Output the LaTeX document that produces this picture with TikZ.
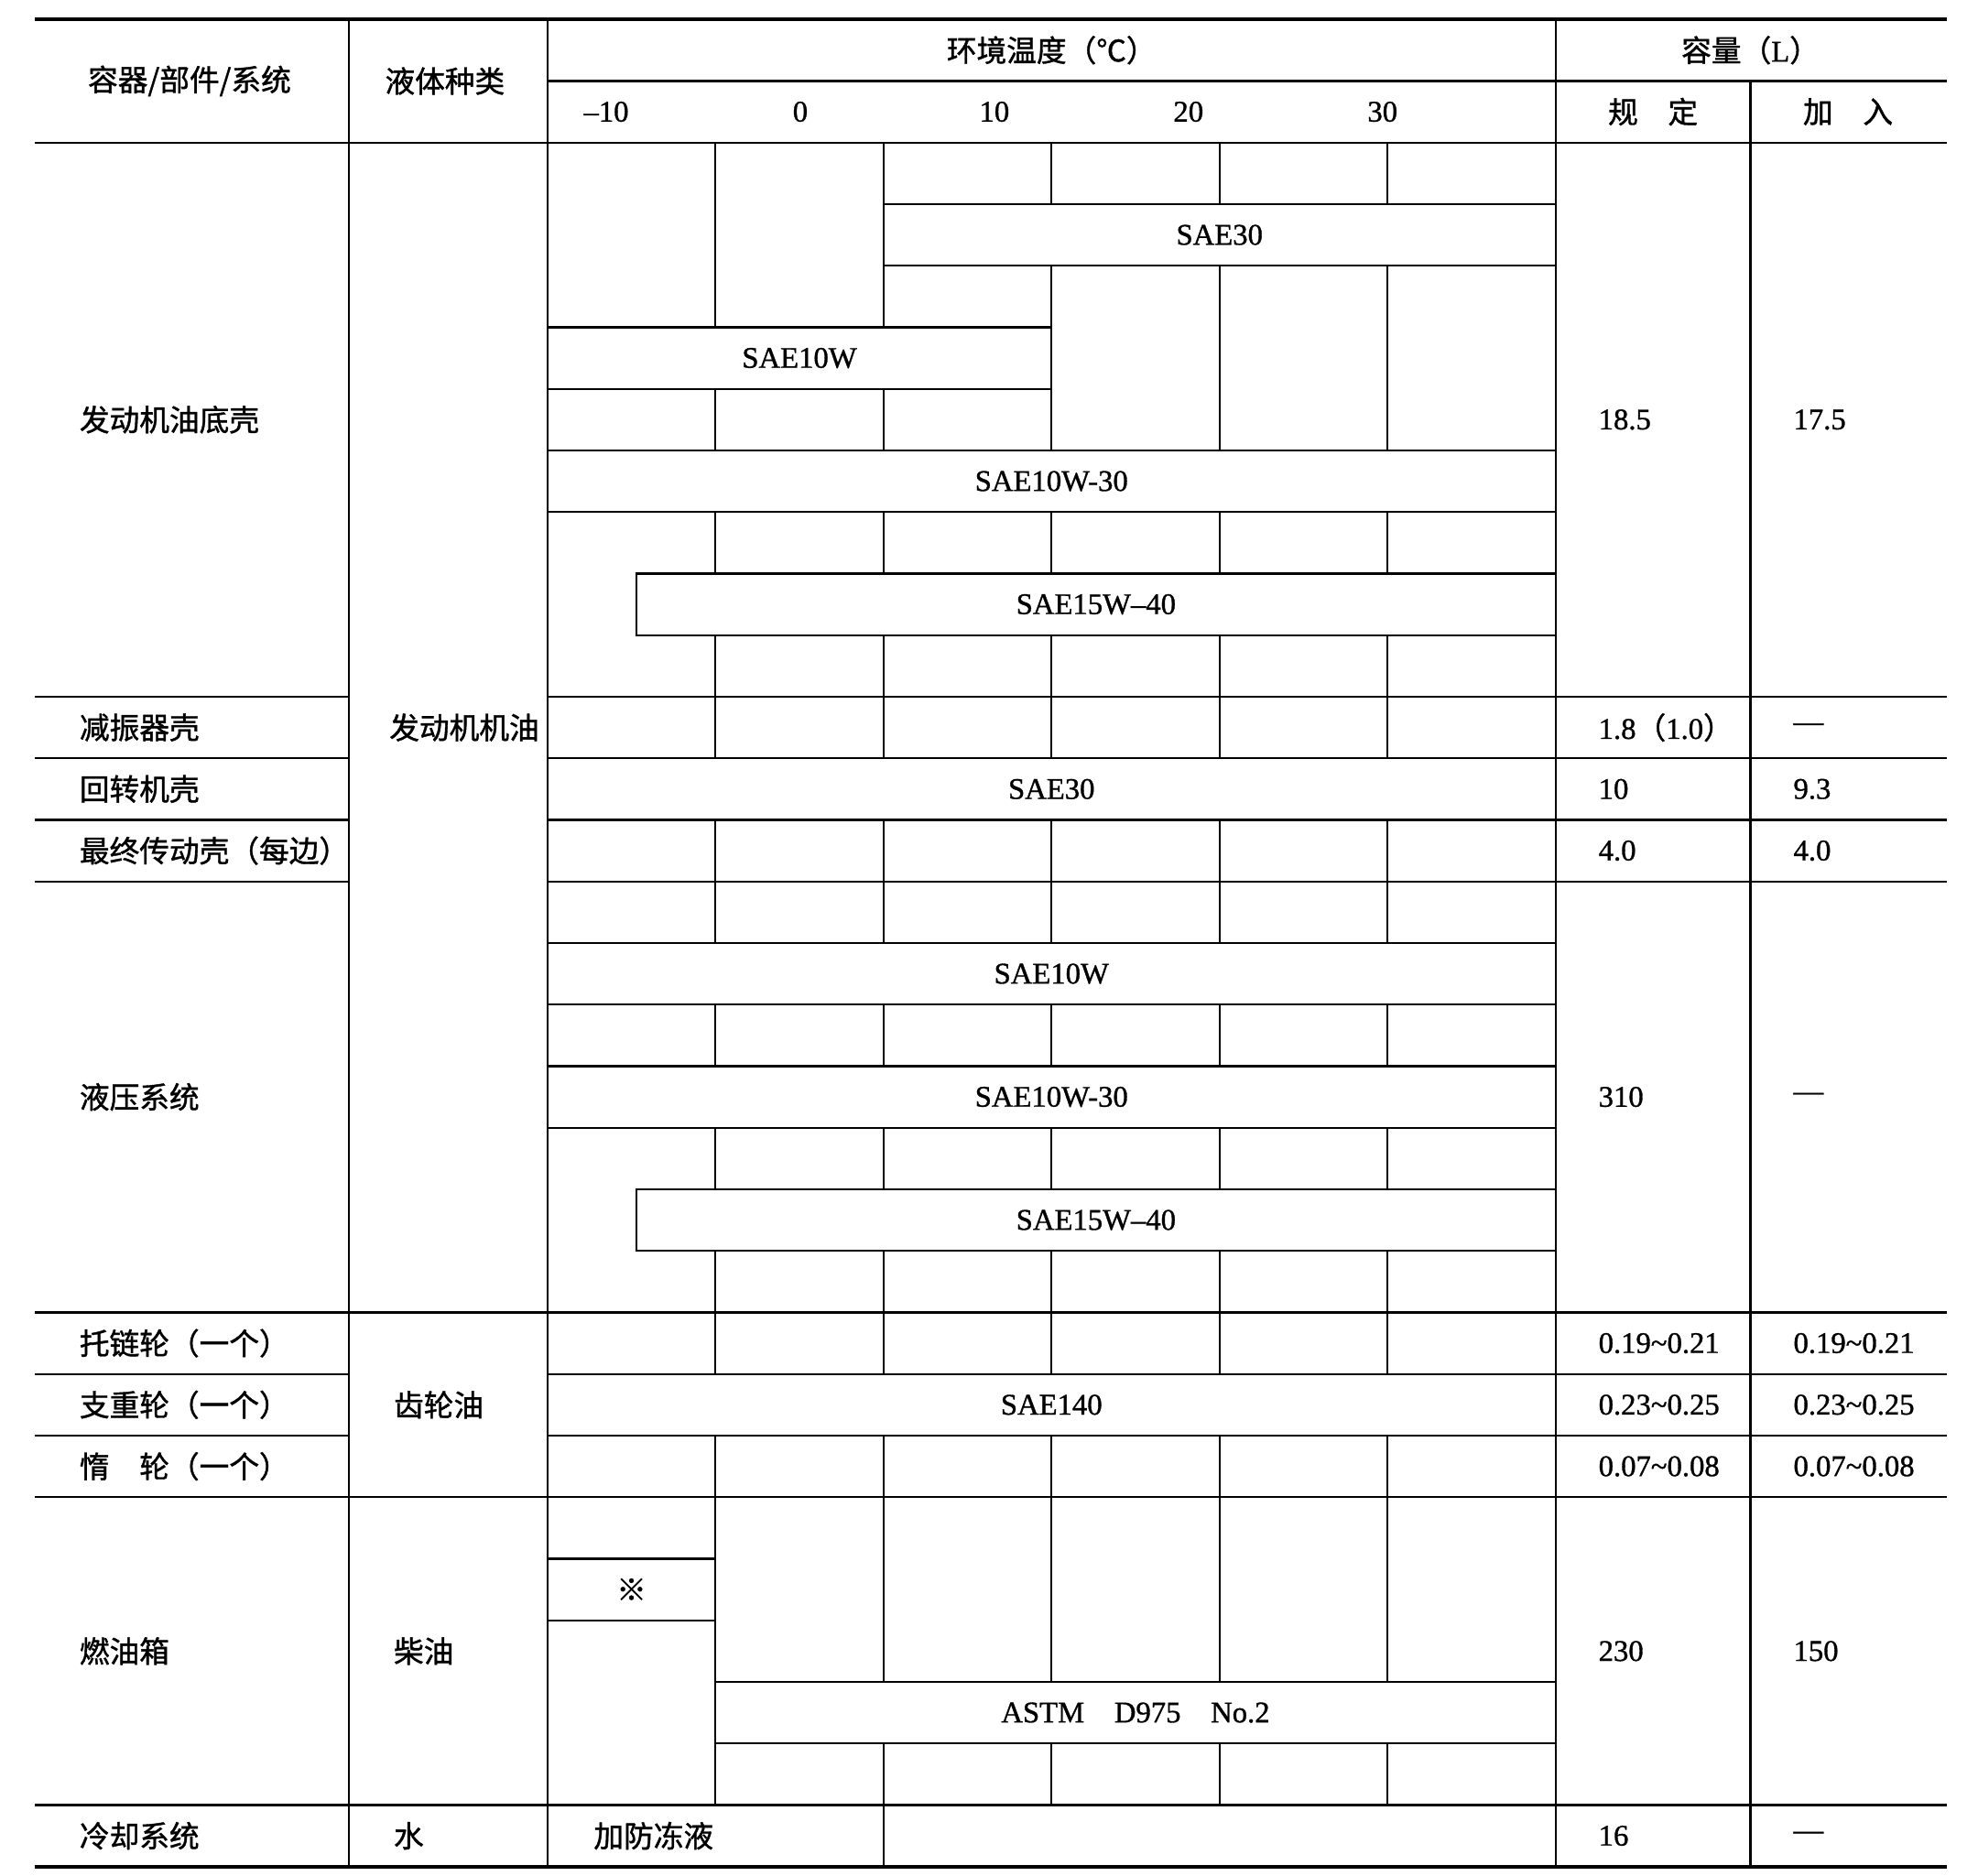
\documentclass[tikz,border=0pt]{standalone}
\usepackage{fontspec}
\setmainfont{Liberation Serif}[FakeBold=1]
\newfontfamily\cjk{Noto Sans CJK SC}[FakeBold=1.2]
\newcommand\cjkpar[1]{{\cjk （}#1{\cjk ）}}

\tikzset{
  rule/.style={line width=0.9pt},
  heavyrule/.style={line width=1.8pt},
  lbl/.style={anchor=west, inner sep=0pt},
}

\begin{document}
\begin{tikzpicture}[x=2.664cm, y=0.9764cm, rule,
  every node/.style={font=\fontsize{13.5}{16}\selectfont}]

\useasboundingbox (-3.258,2.315) rectangle (8.514,-28.144);

\draw[heavyrule] (-3.05,2) -- (8.33,2);
\draw (0,1) -- (8.33,1);
\draw (-3.05,0) -- (8.33,0);
\draw[heavyrule] (-3.05,-28) -- (8.33,-28);

\draw (-1.18,2) -- (-1.18,-28);
\draw (0,2) -- (0,-28);
\draw (6,2) -- (6,-28);
\draw (7.16,1) -- (7.16,-28);

\foreach \r in {9,10,11,12,19,20,21,22,27} {
  \draw (-3.05,-\r) -- (-1.18,-\r);
  \draw (0,-\r) -- (8.33,-\r);
}
\foreach \r in {19,22,27} \draw (-1.18,-\r) -- (0,-\r);

\foreach \r in {0,2,4,6,8,9,11,12,14,16,18,19,21,22,24,26} {
  \foreach \k in {1,...,5}
    \draw (\k,-\r) -- (\k,-\r-1);
}
\draw (1,-1) -- (1,-2);
\foreach \k in {4,5} \draw (\k,-3) -- (\k,-4);
\foreach \k in {2,...,5} \draw (\k,-23) -- (\k,-24);
\draw (2,-27) -- (2,-28);

\foreach \r/\a/\b/\t in {1/2/6/SAE30, 3/0/3/SAE10W, 5/0/6/SAE10W-30,
    7/0.53/6/SAE15W--40, 10/0/6/SAE30, 13/0/6/SAE10W, 15/0/6/SAE10W-30,
    17/0.53/6/SAE15W--40, 20/0/6/SAE140, 25/1/6/{ASTM\quad D975\quad No.2}} {
  \draw (\a,-\r) rectangle (\b,-\r-1);
  \node (bar\r) at ({(\a+\b)/2},-\r-0.5) {\t};
}
\draw (0,-23) rectangle (1,-24);
\node (note) at (0.5,-23.5) {\cjk ※};

\node (hpart)  at (-2.13,1)  {\cjk 容器/部件/系统};
\node (hfluid) at (-0.61,1)  {\cjk 液体种类};
\node (htemp)  at (3,1.5)    {\cjk 环境温度（℃）};
\node (hcap)   at (7.16,1.5) {{\cjk 容量（}L{\cjk ）}};
\node (hspec)  at (6.58,0.5) {\cjk 规\hspace{1em}定};
\node (hfill)  at (7.74,0.5) {\cjk 加\hspace{1em}入};

\foreach \t [count=\i from 0] in {--10,0,10,20,30}
  \node (temp\i) at ({0.35+1.155*\i},0.5) {\t};

\foreach \y/\t [count=\n] in {4.5/发动机油底壳, 9.5/减振器壳, 10.5/回转机壳,
    11.5/最终传动壳（每边）, 15.5/液压系统, 19.5/托链轮（一个）,
    20.5/支重轮（一个）, 21.5/惰\hspace{1em}轮（一个）, 24.5/燃油箱, 27.5/冷却系统}
  \node[lbl] (part\n) at (-2.79,-\y) {\cjk \t};

\node[lbl] (fluid1) at (-0.946,-9.5) {\cjk 发动机机油};
\node[lbl] (fluid2) at (-0.92,-20.5) {\cjk 齿轮油};
\node[lbl] (fluid3) at (-0.92,-24.5) {\cjk 柴油};
\node[lbl] (fluid4) at (-0.92,-27.5) {\cjk 水};
\node[lbl] (antifz) at (0.27,-27.5)  {\cjk 加防冻液};

\foreach \y/\s/\f [count=\n] in {4.5/18.5/17.5, 9.5/1.8\cjkpar{1.0}/---,
    10.5/10/9.3, 11.5/4.0/4.0, 15.5/310/---,
    19.5/0.19\textasciitilde0.21/0.19\textasciitilde0.21,
    20.5/0.23\textasciitilde0.25/0.23\textasciitilde0.25,
    21.5/0.07\textasciitilde0.08/0.07\textasciitilde0.08,
    24.5/230/150, 27.5/16/---} {
  \node[lbl] (spec\n) at (6.25,-\y) {\s};
  \node[lbl] (fill\n) at (7.41,-\y) {\f};
}

\end{tikzpicture}
\end{document}
